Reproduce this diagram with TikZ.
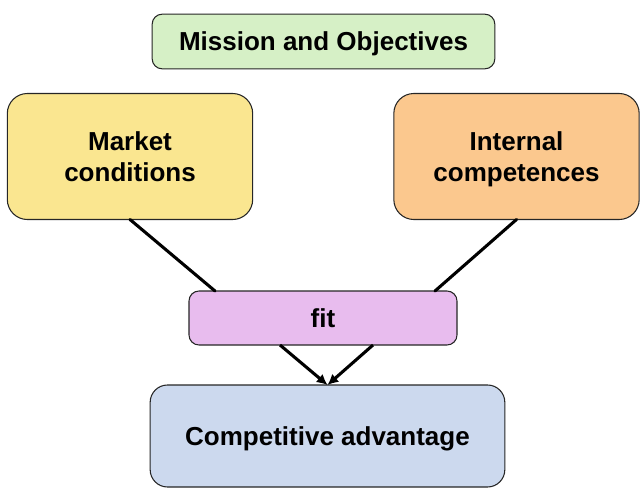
\documentclass[tikz,border=0pt]{standalone}
\usepackage{fontspec}
\setmainfont{Liberation Sans}
\usepackage{tikz}
\usetikzlibrary{arrows.meta,calc}
\definecolor{missiongreen}{HTML}{D6F0C6}
\definecolor{marketyellow}{HTML}{FAE690}
\definecolor{internalorange}{HTML}{FBC88E}
\definecolor{fitpink}{HTML}{E8BCEE}
\definecolor{advblue}{HTML}{CCD9EE}
\tikzstyle{box}=[draw=black!85,line width=0.8pt,outer sep=0pt,align=center,text depth=0pt,font=\fontsize{19.5}{23.5}\selectfont\bfseries]
\tikzstyle{line} = [draw, line width=2.3pt, line cap=round]
\tikzstyle{arrow} = [draw, line width=2.3pt, -{Latex[length=8pt,width=8pt]}]

\begin{document}
\begin{tikzpicture}[x=0.75pt,y=-0.75pt]
  \useasboundingbox (0,0) rectangle (643,489);
  \node[box,fill=missiongreen,rounded corners=7.5pt,minimum width=257pt,minimum height=41pt] (MO) at (323.5,41.5) {Mission and Objectives};
  \node[box,fill=marketyellow,rounded corners=15pt,minimum width=184pt,minimum height=94.5pt] (MC) at (130,156.5) {Market\\conditions};
  \node[box,fill=internalorange,rounded corners=15pt,minimum width=184pt,minimum height=94.5pt] (IC) at (516.5,156.5) {Internal\\competences};
  \node[box,fill=fitpink,rounded corners=7.5pt,minimum width=201pt,minimum height=40.5pt] (FIT) at (323,318) {fit};
  \node[box,fill=advblue,rounded corners=13pt,minimum width=266pt,minimum height=76.5pt] (CA) at (327.5,436) {Competitive advantage};

  % into fit
  \path [line] (MC.south) -- ($(FIT.north west)+(26,0)$);
  \path [line] (IC.south) -- ($(FIT.north east)+(-22,0)$);

  % out of fit
  \path [arrow] ($(FIT.south)+(-43,0)$) -- (CA.north);
  \path [arrow] ($(FIT.south)+(50,0)$) -- (CA.north);
\end{tikzpicture}
\end{document}
